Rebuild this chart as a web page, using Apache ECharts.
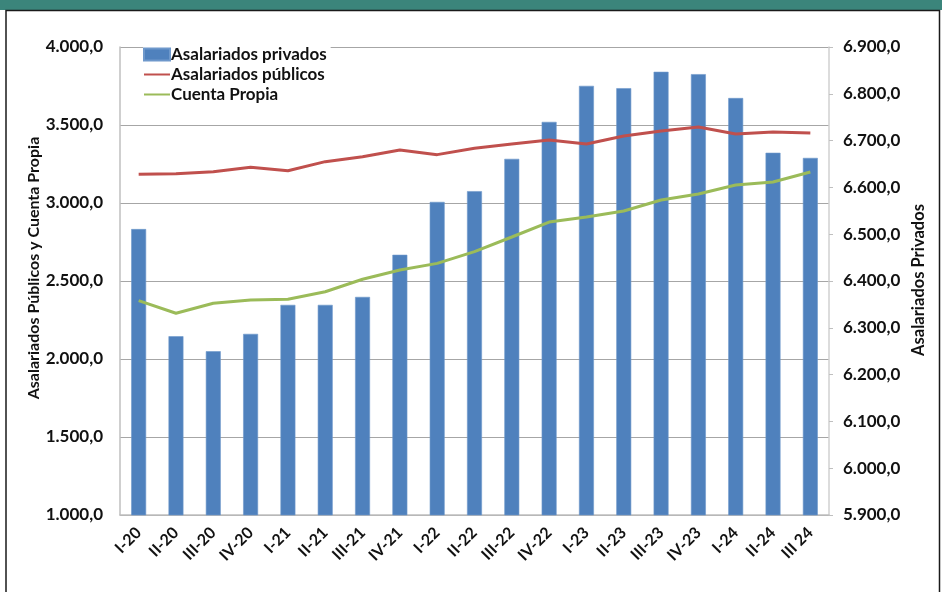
<!DOCTYPE html>
<html>
<head>
<meta charset="utf-8">
<script src="https://cdn.jsdelivr.net/npm/echarts@6/dist/echarts.min.js"></script>
<style>
  html, body { margin: 0; padding: 0; background: #ffffff; }
  #chart { width: 942px; height: 592px; }
</style>
</head>
<body>
<div id="chart"></div>
<script>
// Trimestres
const categories = ['I-20','II-20','III-20','IV-20','I-21','II-21','III-21','IV-21','I-22','II-22','III-22','IV-22','I-23','II-23','III-23','IV-23','I-24','II-24','III 24'];

// Asalariados privados (eje derecho, miles)
const privados = [6511,6282,6250,6287,6349,6349,6366,6456,6569,6592,6661,6740,6817,6812,6847,6842,6791,6674,6663];

// Asalariados públicos (eje izquierdo, miles)
const publicos = [3184,3188,3201,3229,3207,3265,3297,3340,3310,3351,3378,3404,3378,3430,3462,3487,3442,3455,3449];

// Cuenta propia (eje izquierdo, miles)
const cuentaPropia = [2374,2293,2357,2378,2383,2431,2511,2571,2613,2688,2782,2878,2910,2949,3019,3058,3115,3135,3199];

// Títulos de los ejes
const leftAxisTitle = 'Asalariados Públicos y Cuenta Propia';
const rightAxisTitle = 'Asalariados Privados';

const FONT = 'Lato, "Liberation Sans", sans-serif';
const fmt = v => {
  const s = Math.round(v).toString();
  return s.replace(/\B(?=(\d{3})+(?!\d))/g, '.') + ',0';
};

const chart = echarts.init(document.getElementById('chart'), null, { renderer: 'canvas' });

chart.setOption({
  animation: false,
  backgroundColor: '#ffffff',
  textStyle: { fontFamily: FONT },
  graphic: [
    { type: 'rect', silent: true, z: 100, shape: { x: 0, y: 0, width: 942, height: 10 }, style: { fill: '#3B857B' } },
    { type: 'rect', silent: true, z: 100, shape: { x: 6, y: 10.5, width: 933.5, height: 600 }, style: { fill: 'none', stroke: '#1a1a1a', lineWidth: 1.5 } },
    {
      type: 'text', silent: true, x: 34, y: 268, rotation: Math.PI / 2,
      style: { text: leftAxisTitle, fontFamily: FONT, fontWeight: 'bold', fontSize: 16, fill: '#111', align: 'center', verticalAlign: 'middle' }
    },
    {
      type: 'text', silent: true, x: 919, y: 280, rotation: Math.PI / 2,
      style: { text: rightAxisTitle, fontFamily: FONT, fontWeight: 'bold', fontSize: 16.5, fill: '#111', align: 'center', verticalAlign: 'middle' }
    }
  ],
  grid: { left: 120, right: 113, top: 47, bottom: 77, containLabel: false, outerBoundsMode: 'none' },
  legend: {
    left: 143, top: 44, orient: 'vertical', itemGap: 3,
    itemWidth: 26, itemHeight: 12,
    backgroundColor: '#ffffff',
    padding: [2, 4, 2, 0],
    textStyle: { fontFamily: FONT, fontWeight: 'bold', fontSize: 17, color: '#111', padding: [0, 0, 0, -4] },
    data: [
      { name: 'Asalariados privados', icon: 'rect' },
      { name: 'Asalariados públicos', itemStyle: { opacity: 0 } },
      { name: 'Cuenta Propia', itemStyle: { opacity: 0 } }
    ]
  },
  xAxis: {
    type: 'category',
    data: categories,
    boundaryGap: true,
    axisLine: { lineStyle: { color: '#BFBFBF', width: 1.5 } },
    axisTick: { show: false },
    axisLabel: { rotate: 45, margin: 15, fontFamily: FONT, fontWeight: 'bold', fontSize: 16, color: '#111', interval: 0 }
  },
  yAxis: [
    {
      type: 'value', min: 1000, max: 4000, interval: 500, position: 'left',
      axisLine: { show: true, lineStyle: { color: '#BFBFBF', width: 1.5 } },
      axisTick: { show: false },
      splitLine: { show: true, lineStyle: { color: '#A6A6A6', width: 1.2 } },
      axisLabel: { formatter: fmt, margin: 17, fontFamily: FONT, fontWeight: 'bold', fontSize: 17, color: '#111' }
    },
    {
      type: 'value', min: 5900, max: 6900, interval: 100, position: 'right',
      axisLine: { show: true, lineStyle: { color: '#D0D0D0', width: 1.5 } },
      axisTick: { show: true, length: 4, lineStyle: { color: '#BFBFBF' } },
      splitLine: { show: false },
      axisLabel: { formatter: fmt, margin: 14, fontFamily: FONT, fontWeight: 'bold', fontSize: 17, color: '#111' }
    }
  ],
  series: [
    {
      name: 'Asalariados privados', type: 'bar', yAxisIndex: 1,
      data: privados, barWidth: '40%',
      itemStyle: { color: '#4F81BD', borderColor: '#6E98CB', borderWidth: 0.6 }
    },
    {
      name: 'Asalariados públicos', type: 'line', yAxisIndex: 0,
      data: publicos, symbol: 'none',
      lineStyle: { color: '#C0504D', width: 3 }, itemStyle: { color: '#C0504D' }
    },
    {
      name: 'Cuenta Propia', type: 'line', yAxisIndex: 0,
      data: cuentaPropia, symbol: 'none',
      lineStyle: { color: '#9BBB59', width: 3 }, itemStyle: { color: '#9BBB59' }
    }
  ]
});
</script>
</body>
</html>
